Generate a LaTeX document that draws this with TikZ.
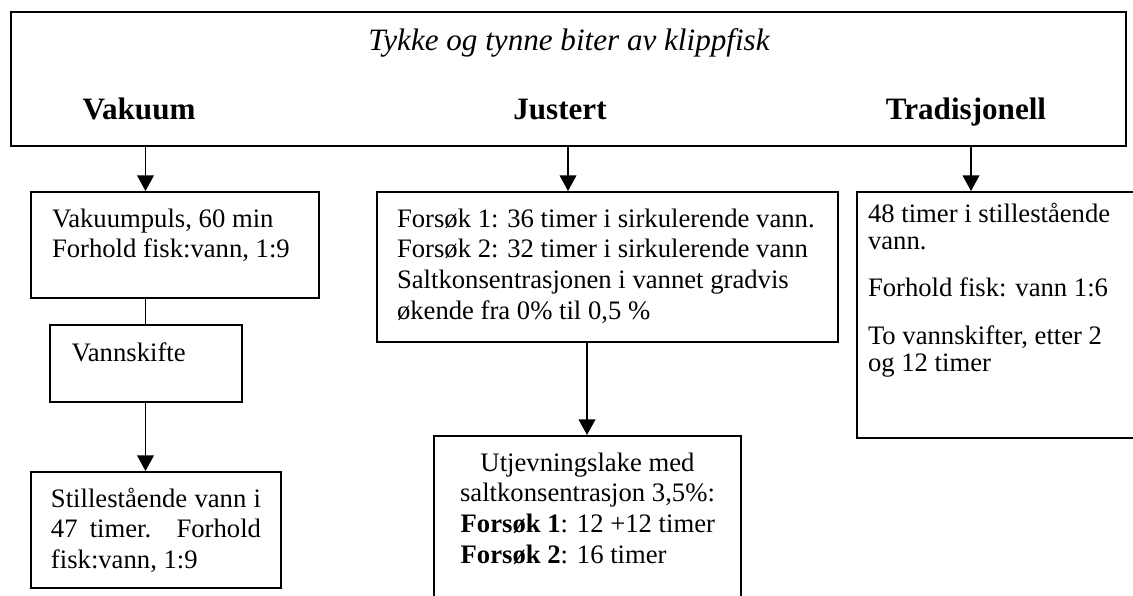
\documentclass[tikz,border=0pt]{standalone}
\usepackage{fontspec}
\setmainfont{Liberation Serif}
\usetikzlibrary{arrows.meta,positioning}

% tekst i boks: hoyde, bredde, forste grunnlinje fra toppen, innhold
\newcommand{\innhold}[4]{\parbox[c][#1][t]{#2}{\vspace*{\dimexpr#3-\ht\strutbox\relax}\strut#4}}

\begin{document}
\begin{tikzpicture}[x=0.45pt,y=-0.45pt,>={Triangle[length=7pt,width=7.5pt]},
  font=\fontsize{12}{13.8}\selectfont,
  boks/.style={draw,line width=0.9pt,inner xsep=9pt,inner ysep=0pt,anchor=north west},
  overskrift/.style={font=\fontsize{14}{16}\selectfont\bfseries,anchor=base}]
\useasboundingbox (0,0) rectangle (1133,595);
\clip (0,0) rectangle (1133,595);

% topp
\node[boks,inner sep=0pt,minimum width=501.75pt,minimum height=60.3pt] (topp) at (10,11) {};
\node[font=\fontsize{14}{16}\selectfont\itshape,anchor=base] (tittel) at (569,50) {Tykke og tynne biter av klippfisk};
\node[overskrift] (vakuum) at (139,119) {Vakuum};
\node[overskrift] (justert) at (560,119) {Justert};
\node[overskrift] (trad) at (966,119) {Tradisjonell};

\coordinate (xv) at (145.5,0);
\coordinate (xj) at (568,0);
\coordinate (xt) at (971,0);
\coordinate (xu) at (587,0);

% vakuum
\node[boks,inner xsep=9.45pt] (v1) at (30,191) {\innhold{47.7pt}{110.7pt}{15.75pt}{Vakuumpuls, 60 min\\ Forhold fisk:vann, 1:9}};
\node[boks,inner xsep=9.7pt,below right=11.25pt and 8.55pt of v1.south west] (skifte) {\innhold{34.65pt}{67pt}{16.2pt}{Vannskifte}};
\node[boks,below=30.6pt of skifte.south west,anchor=north west,xshift=-8.55pt] (v2) {\innhold{52.2pt}{94.5pt}{15.75pt}{Stillestående vann i\linebreak 47 timer. Forhold\linebreak fisk:vann, 1:9}};

% justert
\node[boks] (j1) at (376,191) {\innhold{67.5pt}{189.45pt}{15.75pt}{Forsøk 1: 36 timer i sirkulerende vann.\\ Forsøk 2: 32 timer i sirkulerende vann\\ Saltkonsentrasjonen i vannet gradvis\\ økende fra 0\% til 0,5 \%}};
\node[boks,inner xsep=7pt,below right=41.4pt and 25.65pt of j1.south west] (j2) {\innhold{78.75pt}{124.15pt}{15.75pt}{\centering Utjevningslake med\\ saltkonsentrasjon 3,5\%:\par\raggedright\leftskip=5pt\textbf{Forsøk 1}: 12 +12 timer\\ \textbf{Forsøk 2}: 16 timer}};

% tradisjonell
\node[boks,inner xsep=4.95pt,font=\fontsize{12}{12.3}\selectfont] (t1) at (856,191) {\innhold{110.7pt}{125.1pt}{13.5pt}{48 timer i stillestående\\ vann.\\[9pt] Forhold fisk: vann 1:6\\[9pt] To vannskifter, etter 2\\ og 12 timer}};

\draw[->,line width=0.6pt] (topp.south -| xv) -- (v1.north -| xv);
\draw[->,line width=0.6pt] (topp.south -| xj) -- (j1.north -| xj);
\draw[->,line width=0.6pt] (topp.south -| xt) -- (t1.north -| xt);
\draw[line width=0.6pt] (v1.south -| xv) -- (skifte.north -| xv);
\draw[->,line width=0.6pt] (skifte.south -| xv) -- (v2.north -| xv);
\draw[->,line width=0.6pt] (j1.south -| xu) -- (j2.north -| xu);
\end{tikzpicture}
\end{document}
